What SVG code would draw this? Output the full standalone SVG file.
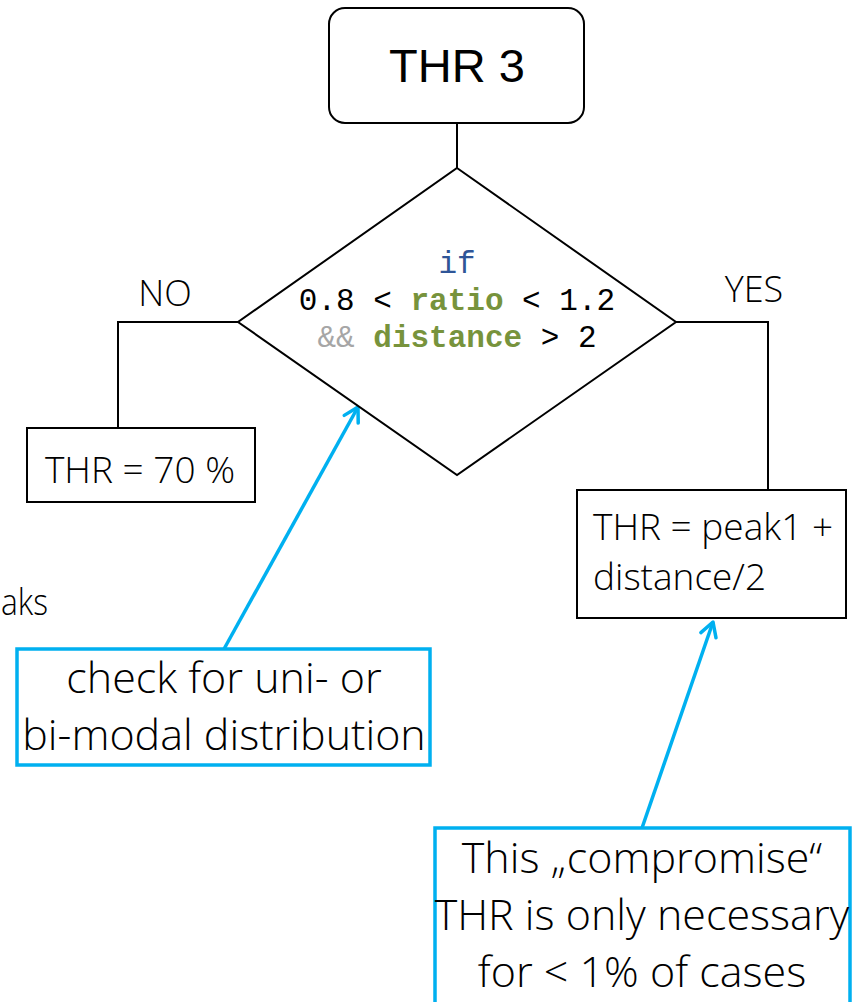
<svg xmlns="http://www.w3.org/2000/svg" width="855" height="1002" viewBox="0 0 855 1002">
<defs>
<style>
.box{fill:#fff;stroke:#000;stroke-width:2}
.line{fill:none;stroke:#000;stroke-width:2}
.note{fill:#fff;stroke:#00B0F0;stroke-width:3.5}
.arrow{fill:none;stroke:#00B0F0;stroke-width:3.5}
.seg{font-family:"Open Sans","Liberation Sans",sans-serif;font-weight:300;fill:#000}
.mono{font-family:"Liberation Mono","Courier New",monospace;font-size:31px;fill:#000}
.kw{fill:#77933C;font-weight:bold}
</style>
<marker id="ah" viewBox="0 0 20 20" refX="18" refY="10" markerWidth="20" markerHeight="20" markerUnits="userSpaceOnUse" orient="auto">
<path d="M4,2 L18,10 L4,18" fill="none" stroke="#00B0F0" stroke-width="3.5" stroke-linecap="round" stroke-linejoin="round"/>
</marker>
</defs>
<rect width="855" height="1002" fill="#fff"/>
<text class="seg" x="1" y="615" font-size="37" textLength="47" lengthAdjust="spacingAndGlyphs">aks</text>
<g id="connectors">
<path class="line" d="M457,123 L457,168"/>
<path class="line" d="M238,322 L118,322 L118,428"/>
<path class="line" d="M676,322 L768,322 L768,490"/>
<path class="arrow" d="M224,649 L358,407" marker-end="url(#ah)"/>
<path class="arrow" d="M642,828 L713,622" marker-end="url(#ah)"/>
</g>
<g id="start">
<rect class="box" x="329" y="8" width="255" height="115" rx="16"/>
<text x="457" y="82" text-anchor="middle" font-family="Liberation Sans,Arial,sans-serif" font-size="47">THR 3</text>
</g>
<g id="decision">
<polygon class="box" points="457,168 676,322 457,475 238,322"/>
<text class="mono" x="457" y="273" text-anchor="middle" style="fill:#2F5597">if</text>
<text class="mono" x="457" y="310" text-anchor="middle">0.8 &lt; <tspan class="kw">ratio</tspan> &lt; 1.2</text>
<text class="mono" x="457" y="347" text-anchor="middle"><tspan fill="#A6A6A6">&amp;&amp;</tspan> <tspan class="kw">distance</tspan> &gt; 2</text>
</g>
<g id="label-no"><text class="seg" x="165" y="306" font-size="36" text-anchor="middle">NO</text></g>
<g id="label-yes"><text class="seg" x="754" y="302" font-size="36" text-anchor="middle">YES</text></g>
<g id="thr70">
<rect class="box" x="27" y="428" width="228" height="74"/>
<text class="seg" x="140" y="483" font-size="37" text-anchor="middle">THR = 70 %</text>
</g>
<g id="thrpeak">
<rect class="box" x="577" y="490" width="269" height="128"/>
<text class="seg" x="593" y="540" font-size="37">THR = peak1 +</text>
<text class="seg" x="593" y="590" font-size="37">distance/2</text>
</g>
<g id="note-check">
<rect class="note" x="17" y="649" width="413" height="116"/>
<text class="seg" x="224" y="693" font-size="43" text-anchor="middle">check for uni- or</text>
<text class="seg" x="224" y="750" font-size="43" text-anchor="middle">bi-modal distribution</text>
</g>
<g id="note-compromise">
<rect class="note" x="435" y="828" width="415" height="180"/>
<text class="seg" x="642" y="873" font-size="43" text-anchor="middle">This „compromise“</text>
<text class="seg" x="642" y="930" font-size="43" text-anchor="middle">THR is only necessary</text>
<text class="seg" x="642" y="987" font-size="43" text-anchor="middle">for &lt; 1% of cases</text>
</g>
</svg>
